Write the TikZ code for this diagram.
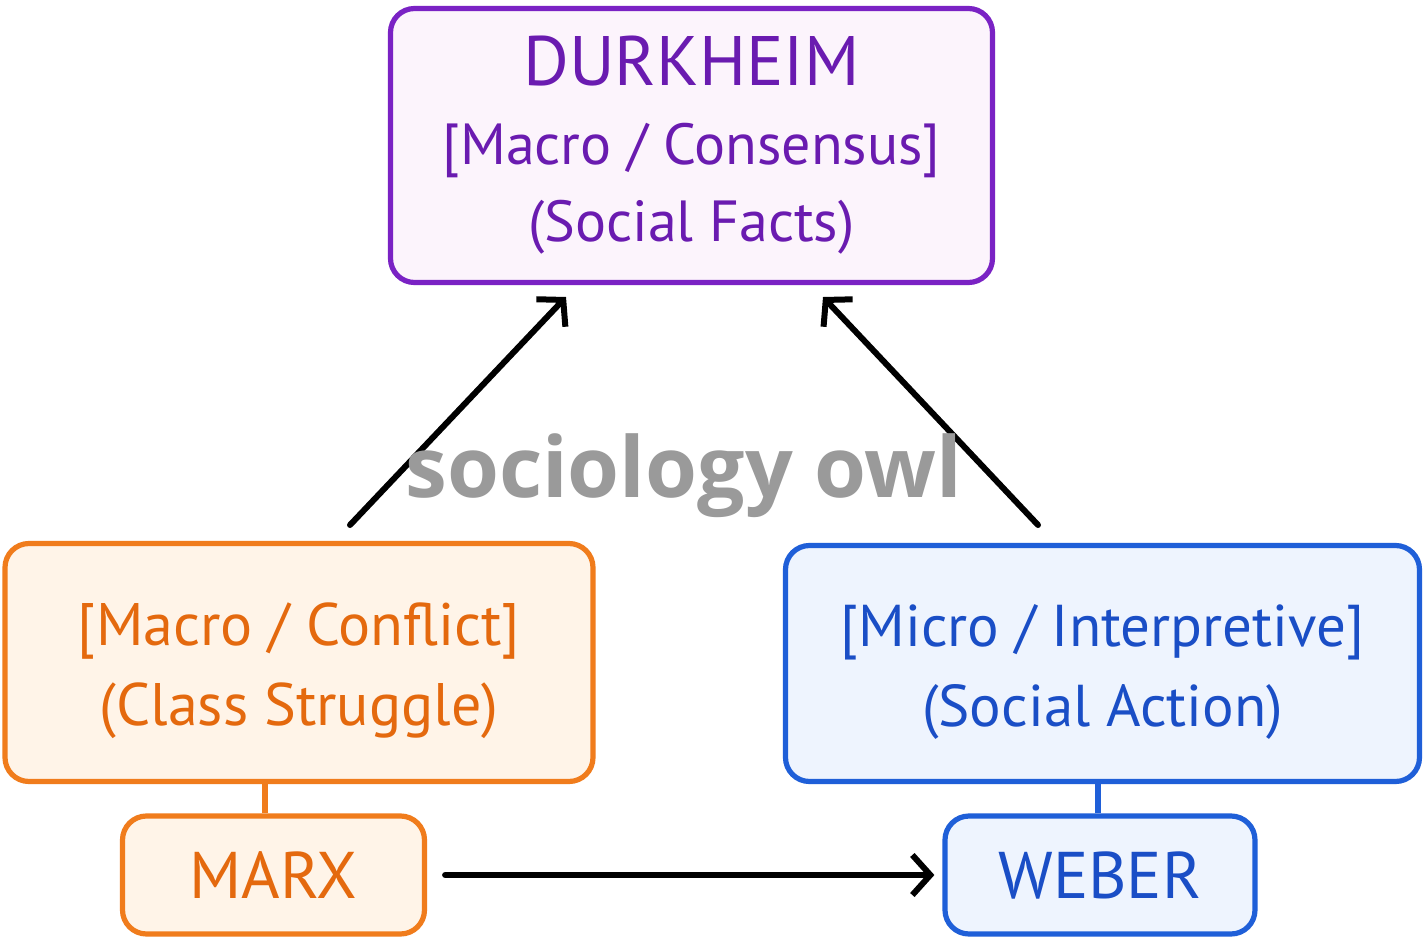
\documentclass[tikz,border=0pt]{standalone}
\usepackage{fontspec}
\setmainfont{PT Sans}
\newfontfamily\wmfont{Open Sans}
\usetikzlibrary{arrows.meta}
\definecolor{purpleS}{HTML}{7A22C4}
\definecolor{purpleT}{HTML}{6A1BB0}
\definecolor{purpleF}{HTML}{FCF4FC}
\definecolor{orangeS}{HTML}{F07C1C}
\definecolor{orangeT}{HTML}{E4690E}
\definecolor{orangeF}{HTML}{FFF4E8}
\definecolor{blueS}{HTML}{1F5FD8}
\definecolor{blueT}{HTML}{1A4EC6}
\definecolor{blueF}{HTML}{EEF4FE}
\definecolor{wmgray}{HTML}{9A9A9A}
\newcommand{\twolines}[2]{\raisebox{0pt}[\dimexpr\height+7pt\relax][\depth]{\begin{tabular}{@{}c@{}}#1\\#2\end{tabular}}}
\begin{document}
\begin{tikzpicture}[x=0.5pt,y=-0.5pt,
  card/.style={draw, line width=2.6pt, rounded corners=12pt, inner sep=0pt, align=center},
  purplecard/.style={card, draw=purpleS, fill=purpleF, text=purpleT},
  orangecard/.style={card, draw=orangeS, fill=orangeF, text=orangeT},
  bluecard/.style={card, draw=blueS, fill=blueF, text=blueT},
  arr/.style={line width=3pt, line cap=round, -{Straight Barb[length=9pt,width=20pt,line width=3pt]}},
  tie/.style={line width=2.6pt}
]
\useasboundingbox (0,0) rectangle (1426,938);
\fill[white] (0,0) rectangle (1426,938);

\node[purplecard, minimum width=301pt, minimum height=137pt,
      font=\fontsize{29}{38.5}\selectfont] (durk) at (691.5,145.5)
  {{\fontsize{35}{38.5}\selectfont DURKHEIM}\\[1pt]
   {[}Macro / Consensus{]}\\
   (Social Facts)};

\node[orangecard, minimum width=294pt, minimum height=119pt,
      font=\fontsize{30}{40}\selectfont] (orng) at (299,662.5)
  {\twolines{{[}Macro / Conflict{]}}{(Class Struggle)}};

\node[orangecard, minimum width=151pt, minimum height=59pt,
      font=\fontsize{33}{36}\selectfont] (marx) at (273.5,875)
  {MARX};

\node[bluecard, minimum width=317pt, minimum height=118pt,
      font=\fontsize{29.5}{40}\selectfont] (blu) at (1102.5,663.5)
  {\twolines{{[}Micro / Interpretive{]}}{(Social Action)}};

\node[bluecard, minimum width=155pt, minimum height=59pt,
      font=\fontsize{33}{36}\selectfont] (weber) at (1100,875)
  {WEBER};

\draw[tie, draw=orangeS] ([xshift=-4.25pt]marx.north) -- ([xshift=-4.25pt]marx.north |- orng.south);
\draw[tie, draw=blueS] ([xshift=-1pt]weber.north) -- ([xshift=-1pt]weber.north |- blu.south);

\coordinate (s1) at (350,525);
\coordinate (e1) at (566,297);
\coordinate (s2) at (1038,525);
\coordinate (e2) at (823,297);
\draw[arr] (s1) -- (e1);
\draw[arr] (s2) -- (e2);
\draw[arr, shorten <=9pt, shorten >=4pt] (marx.east) -- (weber.west);

\node[text=wmgray, font=\wmfont\bfseries\fontsize{42}{46}\selectfont, inner sep=0pt] (wm) at (684,476) {sociology owl};
\end{tikzpicture}
\end{document}
